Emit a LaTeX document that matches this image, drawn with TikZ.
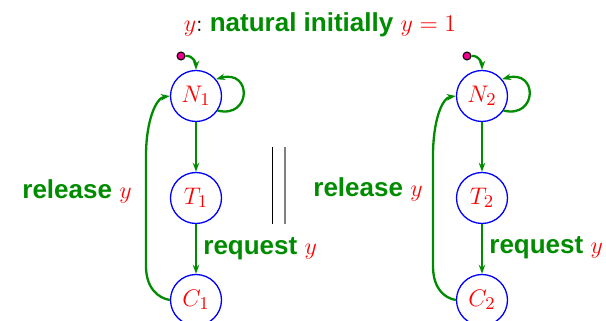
\documentclass[tikz,border=0pt]{standalone}
\usepackage{fontspec}
\setmainfont{Liberation Sans}
\usetikzlibrary{arrows.meta}
\definecolor{grn}{rgb}{0,0.55,0}
\begin{document}
\begin{tikzpicture}[x=0.5pt,y=0.5pt,
  state/.style={circle,draw=blue,line width=0.65pt,minimum size=25.5pt,inner sep=0pt,
    text=red,font=\fontsize{13}{15}\selectfont},
  edge/.style={draw=grn,line width=1.15pt,-{Stealth[length=4.5pt,width=3.2pt]}},
  lbl/.style={font=\fontsize{13}{15}\selectfont\bfseries,text=grn,inner sep=0pt},
  init/.style={circle,draw=black,fill=magenta,line width=0.5pt,minimum size=4pt,inner sep=0pt}]
\useasboundingbox (0,0) rectangle (606,321);

% heading
\node[lbl,anchor=base] (title) at (320,289)
  {{\color{red}$y$}{\color{black}$:$} natural initially {\color{red}$y=1$}};

% first process
\node[state] (N1) at (196,225) {$N_1$};
\node[state] (T1) at (196,123) {$T_1$};
\node[state] (C1) at (196,21) {$C_1$};
\node[init] (i1) at (181,265) {};

\draw[edge] (i1.east) .. controls +(8,1) and +(0,6) .. (N1.north);
\draw[edge] (N1.-34) .. controls +(34,-8) and +(36,10) .. (N1.40);
\draw[edge] (N1) -- (T1);
\draw[edge] (T1) -- (C1);
\draw[edge] (C1.west) .. controls +(-12,2) and +(0,-22) .. (146,55)
  -- (146,165) .. controls +(0,35) and +(-14,-2) .. (N1.west);

\node[lbl,anchor=base east] (rel1) at (132,122) {release {\color{red}$y$}};
\node[lbl,anchor=base west] (req1) at (203,66) {request {\color{red}$y$}};

% parallel composition bars
\draw[black,line width=0.6pt] (272.3,174) -- (272.3,97);
\draw[gray,line width=0.8pt] (285,174) -- (285,97);

% second process
\node[state] (N2) at (482,225) {$N_2$};
\node[state] (T2) at (482,123) {$T_2$};
\node[state] (C2) at (482,21) {$C_2$};
\node[init] (i2) at (467,265) {};

\draw[edge] (i2.east) .. controls +(8,1) and +(0,6) .. (N2.north);
\draw[edge] (N2.-34) .. controls +(34,-8) and +(36,10) .. (N2.40);
\draw[edge] (N2) -- (T2);
\draw[edge] (T2) -- (C2);
\draw[edge] (C2.west) .. controls +(-12,2) and +(0,-22) .. (433,55)
  -- (433,165) .. controls +(0,35) and +(-14,-2) .. (N2.west);

\node[lbl,anchor=base east] (rel2) at (423,124) {release {\color{red}$y$}};
\node[lbl,anchor=base west] (req2) at (489,67) {request {\color{red}$y$}};
\end{tikzpicture}
\end{document}
